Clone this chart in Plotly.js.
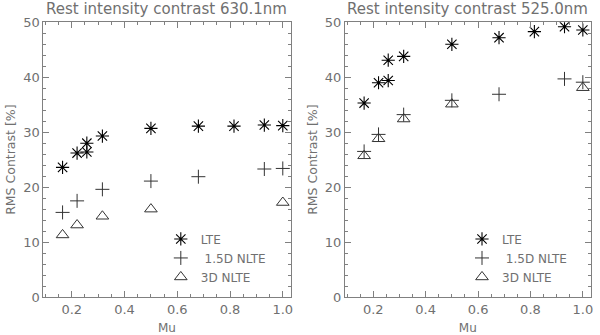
<!DOCTYPE html>
<html>
<head>
<meta charset="utf-8">
<script src="https://cdn.plot.ly/plotly-3.0.1.min.js"></script>
<style>html,body{margin:0;padding:0;background:#fff;}#chart{width:600px;height:335px;}</style>
</head>
<body>
<div id="chart"></div>
<script>
// Data
const muLTE = [0.165, 0.22, 0.257, 0.257, 0.316, 0.5, 0.68, 0.815, 0.93, 1.0];
const mu15D = [0.165, 0.22, 0.316, 0.5, 0.68, 0.93, 1.0];
const mu3D  = [0.165, 0.22, 0.316, 0.5, 1.0];

const lte630   = [23.6, 26.2, 28.0, 26.4, 29.3, 30.7, 31.1, 31.1, 31.3, 31.2];
const nlte15D630 = [15.4, 17.5, 19.6, 21.1, 21.9, 23.3, 23.4];
const nlte3D630  = [11.3, 13.1, 14.7, 16.0, 17.2];

const lte525   = [35.3, 39.0, 39.4, 43.1, 43.8, 46.0, 47.2, 48.3, 49.2, 48.6];
const nlte15D525 = [26.5, 29.6, 33.2, 35.8, 36.9, 39.7, 39.1];
const nlte3D525  = [25.7, 28.8, 32.4, 35.1, 38.1];

const seriesNames = ['LTE', ' 1.5D NLTE', '3D NLTE'];
const panelTitles = ['Rest intensity contrast 630.1nm', 'Rest intensity contrast 525.0nm'];
const xTitle = 'Mu';
const yTitle = 'RMS Contrast [%]';

const FONT = 'DejaVu Sans, sans-serif';
const TXT = '#707070';
const AX = '#808080';

function traces(xa, ya, leg, lte, n15, n3) {
  return [
    {x: muLTE, y: lte, type: 'scatter', mode: 'markers', name: seriesNames[0], xaxis: xa, yaxis: ya, legend: leg,
     marker: {symbol: 'asterisk-open', size: 11, color: '#000', line: {color: '#111', width: 1.1}}},
    {x: mu15D, y: n15, type: 'scatter', mode: 'markers', name: seriesNames[1], xaxis: xa, yaxis: ya, legend: leg,
     marker: {symbol: 'cross-thin-open', size: 10, color: '#333', line: {color: '#333', width: 1}}},
    {x: mu3D, y: n3, type: 'scatter', mode: 'markers', name: seriesNames[2], xaxis: xa, yaxis: ya, legend: leg,
     marker: {symbol: 'triangle-up-open', size: 11, color: '#333', line: {color: '#333', width: 1}}}
  ];
}

const data = [].concat(
  traces('x', 'y', 'legend', lte630, nlte15D630, nlte3D630),
  traces('x2', 'y2', 'legend2', lte525, nlte15D525, nlte3D525)
);

function xaxis(dom) {
  return {
    domain: dom, range: [0.092, 1.03], dtick: 0.2, tick0: 0, tickformat: '.1f',
    ticks: 'inside', ticklen: 6, tickcolor: AX, tickwidth: 1,
    minor: {dtick: 0.05, tick0: 0, ticks: 'inside', ticklen: 3, tickcolor: AX},
    showline: true, linecolor: AX, linewidth: 1, mirror: 'allticks',
    showgrid: false, zeroline: false,
    tickfont: {family: FONT, size: 13, color: TXT},
    title: {text: xTitle, font: {family: FONT, size: 12, color: TXT}, standoff: 8}
  };
}
function yaxis(anchor) {
  return {
    domain: [0.1134, 0.9334], range: [0, 50], dtick: 10, anchor: anchor,
    ticks: 'inside', ticklen: 6, tickcolor: AX, tickwidth: 1,
    minor: {dtick: 2, ticks: 'inside', ticklen: 3, tickcolor: AX},
    showline: true, linecolor: AX, linewidth: 1, mirror: 'allticks',
    showgrid: false, zeroline: false,
    tickfont: {family: FONT, size: 13, color: TXT},
    title: {text: yTitle, font: {family: FONT, size: 12.5, color: TXT}, standoff: 4}
  };
}

const legendStyle = {
  font: {family: FONT, size: 12, color: TXT}, bgcolor: 'rgba(0,0,0,0)',
  borderwidth: 0, xanchor: 'left', yanchor: 'top', tracegroupgap: 0, itemwidth: 30
};

const layout = {
  width: 600, height: 335,
  margin: {l: 0, r: 0, t: 0, b: 0},
  paper_bgcolor: '#fff', plot_bgcolor: '#fff',
  font: {family: FONT, color: TXT},
  xaxis: Object.assign(xaxis([0.0722, 0.4845]), {anchor: 'y'}),
  yaxis: yaxis('x'),
  xaxis2: Object.assign(xaxis([0.575, 0.9845]), {anchor: 'y2'}),
  yaxis2: yaxis('x2'),
  legend: Object.assign({x: 0.268, y: 0.33}, legendStyle),
  legend2: Object.assign({x: 0.770, y: 0.33}, legendStyle),
  showlegend: true,
  annotations: [
    {text: panelTitles[0], xref: 'paper', yref: 'paper', x: 0.2783, y: 1.005, yanchor: 'top', xanchor: 'center', showarrow: false,
     font: {family: FONT, size: 15, color: TXT}},
    {text: panelTitles[1], xref: 'paper', yref: 'paper', x: 0.7797, y: 1.005, yanchor: 'top', xanchor: 'center', showarrow: false,
     font: {family: FONT, size: 15, color: TXT}}
  ]
};

Plotly.newPlot('chart', data, layout, {staticPlot: true, displayModeBar: false});
</script>
</body>
</html>
